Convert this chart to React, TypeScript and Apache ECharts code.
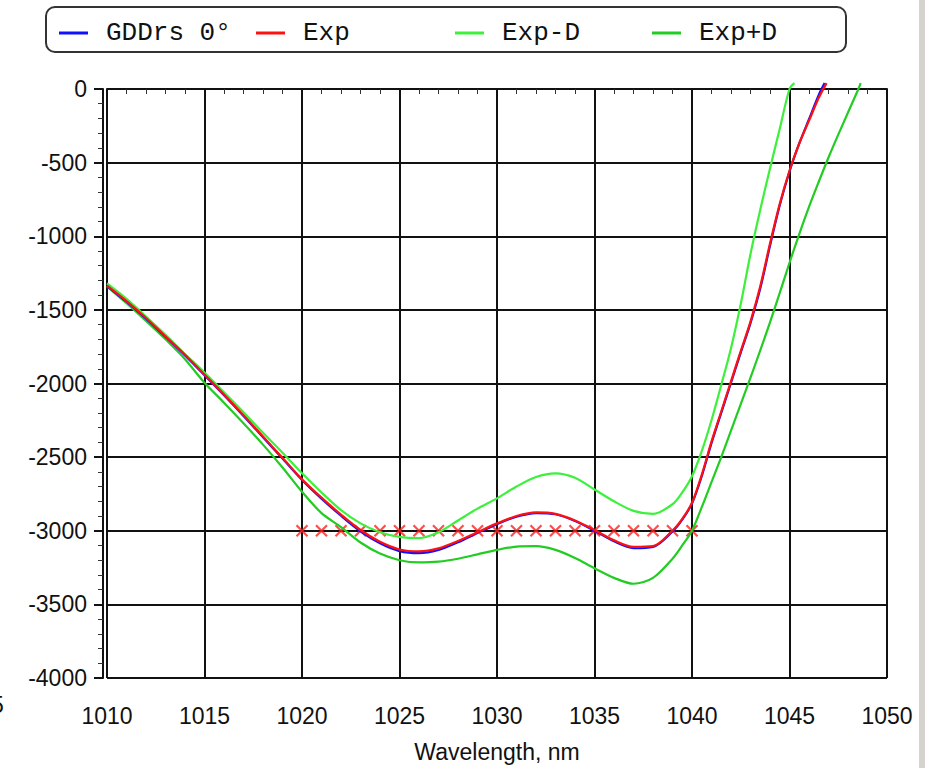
import React, { useEffect, useRef } from "react";
import * as echarts from "echarts";

// Wavelength axis (nm) and GDD axis ranges
const xTicks = { min: 1010, max: 1050, step: 5 };
const yTicks = { min: -4000, max: 0, step: 500 };

// Measured GDD, red curve: [wavelength nm, GDD fs^2]
const expPoints: [number, number][] = [
  [1010, -1335], [1011, -1440], [1012, -1555], [1013, -1680], [1014, -1805],
  [1015, -1940], [1016, -2075], [1017, -2215], [1018, -2360], [1019, -2505],
  [1020, -2650], [1021, -2775], [1022, -2890], [1023, -2995], [1024, -3075],
  [1025, -3127], [1026, -3140], [1027, -3120], [1028, -3070], [1029, -3010],
  [1030, -2950], [1031, -2900], [1032, -2875], [1033, -2885], [1034, -2930],
  [1035, -2995], [1036, -3065], [1037, -3110], [1038, -3105], [1039, -3000],
  [1039.5, -2920], [1040, -2810], [1040.5, -2620], [1041, -2395], [1041.5, -2190],
  [1042, -1985], [1042.5, -1780], [1043, -1580], [1043.5, -1340], [1044, -1050],
  [1044.5, -780], [1045, -555], [1045.5, -370], [1046, -215], [1046.5, -60],
  [1046.9, 40],
];

// Design GDD at 0 deg, blue curve
const gddPoints: [number, number][] = [
  [1010, -1338], [1011, -1445], [1012, -1560], [1013, -1684], [1014, -1810],
  [1015, -1944], [1016, -2080], [1017, -2220], [1018, -2365], [1019, -2510],
  [1020, -2655], [1021, -2782], [1022, -2898], [1023, -3004], [1024, -3085],
  [1025, -3138], [1026, -3152], [1027, -3130], [1028, -3078], [1029, -3015],
  [1030, -2955], [1031, -2905], [1032, -2880], [1033, -2888], [1034, -2934],
  [1035, -3000], [1036, -3072], [1037, -3118], [1038, -3110], [1039, -3005],
  [1039.5, -2925], [1040, -2815], [1040.5, -2630], [1041, -2405], [1041.5, -2200],
  [1042, -1995], [1042.5, -1790], [1043, -1590], [1043.5, -1355], [1044, -1065],
  [1044.5, -790], [1045, -560], [1045.5, -370], [1046, -205], [1046.5, -40],
  [1046.8, 40],
];

// Upper tolerance curve
const expMinusD: [number, number][] = [
  [1010, -1320], [1011, -1425], [1012, -1545], [1013, -1670], [1014, -1800],
  [1015, -1925], [1016, -2060], [1017, -2195], [1018, -2335], [1019, -2470],
  [1020, -2610], [1021, -2740], [1022, -2860], [1023, -2950], [1024, -3010],
  [1025, -3042], [1026, -3050], [1027, -3010], [1028, -2930], [1029, -2850],
  [1030, -2780], [1031, -2700], [1032, -2635], [1033, -2610], [1034, -2640],
  [1035, -2720], [1036, -2800], [1037, -2865], [1038, -2886], [1039, -2820],
  [1039.5, -2740], [1040, -2630], [1040.5, -2460], [1041, -2250], [1041.5, -2010],
  [1042, -1760], [1042.5, -1460], [1043, -1120], [1043.5, -820], [1044, -540],
  [1044.5, -270], [1045, 0], [1045.25, 40],
];

// Lower tolerance curve
const expPlusD: [number, number][] = [
  [1010, -1340], [1011, -1455], [1012, -1575], [1013, -1700], [1014, -1835],
  [1015, -1995], [1016, -2130], [1017, -2270], [1018, -2415], [1019, -2570],
  [1020, -2735], [1021, -2880], [1022, -2975], [1023, -3080], [1024, -3155],
  [1025, -3200], [1026, -3215], [1027, -3210], [1028, -3190], [1029, -3160],
  [1030, -3130], [1031, -3108], [1032, -3105], [1033, -3130], [1034, -3185],
  [1035, -3255], [1036, -3320], [1037, -3360], [1038, -3320], [1039, -3190],
  [1039.5, -3100], [1040, -3000], [1040.5, -2840], [1041, -2670], [1041.5, -2500],
  [1042, -2320], [1042.5, -2140], [1043, -1960], [1043.5, -1775], [1044, -1585],
  [1044.5, -1385], [1045, -1180], [1045.5, -985], [1046, -800], [1046.5, -630],
  [1047, -465], [1047.5, -310], [1048, -160], [1048.5, -10], [1048.65, 40],
];

// Target points marked with crosses
const targetWavelengths = [
  1020, 1021, 1022, 1023, 1024, 1025, 1026, 1027, 1028, 1029, 1030,
  1031, 1032, 1033, 1034, 1035, 1036, 1037, 1038, 1039, 1040,
];
const targetValues = [
  -3000, -3000, -3000, -3000, -3000, -3000, -3000, -3000, -3000, -3000, -3000,
  -3000, -3000, -3000, -3000, -3000, -3000, -3000, -3000, -3000, -3000,
];

const seriesNames = ["GDDrs 0°", "Exp", "Exp-D", "Exp+D"];
const seriesColors = ["#1010ff", "#ff1010", "#3cf03c", "#22cc22"];
const legendLefts = [54, 251, 450, 647];

const MONO = "'Liberation Mono', 'DejaVu Sans Mono', monospace";
const SANS = "'Liberation Sans', Arial, sans-serif";

export default function App() {
  const ref = useRef<HTMLDivElement>(null);

  useEffect(() => {
    if (!ref.current) return;
    const chart = echarts.init(ref.current, undefined, { renderer: "svg" });

    const lineSeries = (name: string, data: [number, number][], color: string, z: number) => ({
      name,
      type: "line",
      data,
      showSymbol: false,
      symbol: "none",
      smooth: 0.3,
      clip: false,
      z,
      lineStyle: { color, width: 2.2 },
      itemStyle: { color },
    });

    const plain = (v: number) => String(v);

    const option = {
      animation: false,
      backgroundColor: "#ffffff",
      grid: { left: 107, top: 89, width: 780, height: 589, containLabel: false },
      legend: seriesNames.map((n, i) => ({
        data: [n],
        left: legendLefts[i],
        top: 15,
        icon: "rect",
        itemWidth: 29,
        itemHeight: 3,
        selectedMode: false,
        textStyle: {
          fontFamily: MONO,
          fontSize: 26,
          color: "#111",
          padding: [0, 0, 0, 13],
        },
        z: 5,
      })),
      xAxis: {
        type: "value",
        min: xTicks.min,
        max: xTicks.max,
        interval: xTicks.step,
        offset: 4,
        name: "Wavelength, nm",
        nameLocation: "middle",
        nameGap: 58,
        nameTextStyle: { fontFamily: SANS, fontSize: 23, color: "#111" },
        axisLine: { show: true, lineStyle: { color: "#111", width: 2 } },
        axisTick: { show: true, length: 9, lineStyle: { color: "#111", width: 2 } },
        minorTick: { show: true, splitNumber: 5, length: 5, lineStyle: { color: "#333", width: 1 } },
        axisLabel: { fontFamily: SANS, fontSize: 23, color: "#111", margin: 22, formatter: plain },
        splitLine: { show: true, lineStyle: { color: "#111", width: 2 } },
      },
      yAxis: {
        type: "value",
        min: yTicks.min,
        max: yTicks.max,
        interval: yTicks.step,
        offset: 4,
        axisLine: { show: true, onZero: false, lineStyle: { color: "#111", width: 2 } },
        axisTick: { show: true, length: 9, lineStyle: { color: "#111", width: 2 } },
        minorTick: { show: true, splitNumber: 5, length: 5, lineStyle: { color: "#333", width: 1 } },
        axisLabel: { fontFamily: SANS, fontSize: 23, color: "#111", margin: 16, formatter: plain },
        splitLine: { show: true, lineStyle: { color: "#111", width: 2 } },
      },
      graphic: [
        {
          type: "rect",
          shape: { x: 46, y: 7, width: 800, height: 45, r: 9 },
          style: { fill: "#ffffff", stroke: "#333", lineWidth: 2 },
          z: 1,
        },
        {
          type: "rect",
          shape: { x: 919, y: 0, width: 6, height: 768 },
          style: { fill: "#d6d3ce" },
          z: 1,
        },
        {
          type: "text",
          x: -9,
          y: 693,
          style: { text: "5", font: `23px ${SANS}`, fill: "#111" },
          z: 1,
        },
      ],
      series: [
        {
          name: "targets",
          type: "scatter",
          data: targetWavelengths.map((w, i) => [w, targetValues[i]]),
          symbol: "path://M0,0L10,10M10,0L0,10",
          symbolSize: 11,
          itemStyle: { color: "rgba(0,0,0,0)", borderColor: "#ff2020", borderWidth: 2.2 },
          z: 2,
        },
        lineSeries(seriesNames[2], expMinusD, seriesColors[2], 3),
        lineSeries(seriesNames[3], expPlusD, seriesColors[3], 3),
        lineSeries(seriesNames[0], gddPoints, seriesColors[0], 4),
        lineSeries(seriesNames[1], expPoints, seriesColors[1], 5),
      ],
    };

    chart.setOption(option as any);
    return () => chart.dispose();
  }, []);

  return (
    <div
      ref={ref}
      style={{ position: "absolute", left: 0, top: 0, width: 925, height: 768 }}
    />
  );
}
